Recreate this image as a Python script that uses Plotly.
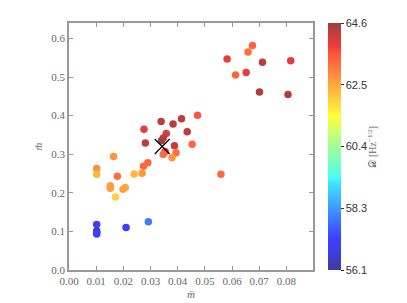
import plotly.graph_objects as go

# data (x = m̄, y = m̂, colour = D)
m_bar = [0.0675, 0.0659, 0.0582, 0.0712, 0.0816, 0.0613, 0.0652, 0.0701, 0.0806,
         0.0473, 0.0414, 0.0435, 0.0453, 0.0559, 0.0339, 0.0383, 0.0276, 0.0358,
         0.0347, 0.0340, 0.0281, 0.0388, 0.0354, 0.0347, 0.0394, 0.0379, 0.0290,
         0.0274, 0.0269, 0.0240, 0.0164, 0.0102, 0.0102, 0.0178, 0.0152, 0.0152,
         0.0199, 0.0207, 0.0171, 0.0102, 0.0102, 0.0102, 0.0102, 0.0210, 0.0292]
m_hat = [0.582, 0.565, 0.547, 0.538, 0.542, 0.505, 0.512, 0.461, 0.455,
         0.401, 0.392, 0.358, 0.326, 0.248, 0.385, 0.378, 0.365, 0.354,
         0.342, 0.335, 0.329, 0.322, 0.307, 0.300, 0.304, 0.291, 0.278,
         0.269, 0.251, 0.249, 0.294, 0.263, 0.248, 0.243, 0.218, 0.212,
         0.209, 0.214, 0.189, 0.118, 0.101, 0.097, 0.093, 0.110, 0.125]
D_val = [63.3, 63.2, 63.9, 64.3, 63.9, 63.3, 63.9, 64.4, 64.4,
         63.5, 64.3, 64.3, 63.3, 63.3, 64.3, 64.3, 63.9, 64.0,
         64.3, 64.5, 64.3, 64.2, 63.8, 63.3, 63.2, 62.7, 63.3,
         63.3, 62.7, 62.3, 62.7, 62.8, 62.3, 63.2, 62.6, 62.6,
         62.6, 62.5, 62.0, 57.0, 56.1, 56.8, 57.0, 57.0, 57.9]
best_x = [0.0343]
best_y = [0.320]

cb_min, cb_max = 56.1, 64.6
cb_ticktext = ["56.1", "58.3", "60.4", "62.5", "64.6"]
cb_tickvals = [cb_min + (cb_max - cb_min) * k / 4 for k in range(5)]

x_ticks = [0.00, 0.01, 0.02, 0.03, 0.04, 0.05, 0.06, 0.07, 0.08]
y_ticks = [0.0, 0.1, 0.2, 0.3, 0.4, 0.5, 0.6]

# matplotlib-like jet, blended with white at alpha 0.78
jet = [(0.0, (0, 0, 128)), (0.11, (0, 0, 255)), (0.125, (0, 0, 255)),
       (0.35, (0, 220, 255)), (0.375, (20, 255, 230)), (0.5, (130, 255, 125)),
       (0.625, (255, 255, 0)), (0.66, (255, 220, 0)), (0.875, (255, 30, 0)),
       (0.9, (240, 0, 0)), (1.0, (128, 0, 0))]
a = 0.76
cscale = [[p, "rgb(%d,%d,%d)" % tuple(round(a * c + (1 - a) * 255) for c in rgb)] for p, rgb in jet]

serif = "Liberation Serif"
fig = go.Figure()
fig.add_trace(go.Scatter(
    x=m_bar, y=m_hat, mode="markers",
    marker=dict(size=7.5, color=D_val, colorscale=cscale, cmin=cb_min, cmax=cb_max,
                line=dict(width=0),
                colorbar=dict(thickness=13, len=1, lenmode="fraction", y=0.5, yanchor="middle",
                              x=1.061, xanchor="left", xpad=0, ypad=0,
                              outlinewidth=0, tickvals=cb_tickvals, ticktext=cb_ticktext,
                              ticks="outside", ticklen=3, tickcolor="#333",
                              tickfont=dict(family="Liberation Sans", size=11, color="#333"))),
    showlegend=False, hoverinfo="skip"))
fig.add_trace(go.Scatter(
    x=best_x, y=best_y, mode="markers",
    marker=dict(symbol="x-thin", size=15, line=dict(width=1.2, color="black"), color="black"),
    showlegend=False))

fig.add_annotation(text="𝒟 [Hz<sup>−1/2</sup>]", xref="paper", yref="paper",
                   x=1.238, y=0.5, xanchor="center", yanchor="middle", textangle=-90,
                   showarrow=False, font=dict(family=serif, size=10, color="#666"))

axis_common = dict(showgrid=False, zeroline=False, showline=True, linecolor="#999", linewidth=1.5,
                   mirror="ticks", ticks="inside", ticklen=4, tickcolor="#999",
                   tickfont=dict(family=serif, size=11, color="#666"))
fig.update_xaxes(range=[0, 0.0898], tickvals=x_ticks, tickformat=".2f",
                 title=dict(text="<i>m̄</i>", font=dict(family=serif, size=11, color="#666"), standoff=4),
                 **axis_common)
fig.update_yaxes(range=[0, 0.64], tickvals=y_ticks, tickformat=".1f",
                 title=dict(text="<i>m̂</i>", font=dict(family=serif, size=11, color="#666"), standoff=6),
                 **axis_common)
fig.update_layout(width=407, height=303, margin=dict(l=61, r=102, t=15, b=31),
                  plot_bgcolor="white", paper_bgcolor="white")
fig.write_html("out.html")
